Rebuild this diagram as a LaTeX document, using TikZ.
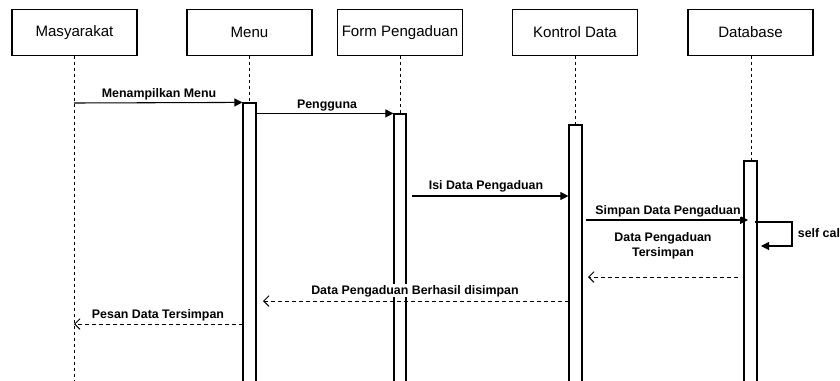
\documentclass[tikz,border=0pt]{standalone}
\usepackage{fontspec}
\setmainfont{Liberation Sans}
\usetikzlibrary{arrows.meta,fit}
\begin{document}
\begin{tikzpicture}[x=0.75pt,y=-0.75pt,
 head/.style={draw, line width=0.9pt, minimum width=93.75pt, minimum height=34.5pt, font=\fontsize{11.3}{13}\selectfont, inner sep=0},
 life/.style={dash pattern=on 2.5pt off 2pt, line width=0.7pt},
 act/.style={draw, fill=white, line width=0.9pt, inner sep=0},
 msg/.style={-{Triangle[length=6pt,width=6pt]}, line width=0.8pt},
 ret/.style={dash pattern=on 3pt off 2.25pt, -{Straight Barb[length=4pt,width=8pt]}, line width=0.7pt},
 lbl/.style={font=\bfseries\fontsize{9.3}{11}\selectfont, fill=white, inner sep=0.5pt, align=center, anchor=base}]

\useasboundingbox (0,0) rectangle (840,380);

% headers
\node[head] (mas) at (74.5,32.5) {Masyarakat};
\node[head] (menu) at (249.5,32.5) {Menu};
\node[head] (form) at (400,32.5) {Form Pengaduan};
\node[head] (kon) at (575,32.5) {Kontrol Data};
\node[head] (db) at (750.5,32.5) {Database};

% lifeline ends
\coordinate (masE) at (74,390);
\coordinate (menuE) at (249,390);
\coordinate (formE) at (400,390);
\coordinate (konE) at (575,390);
\coordinate (dbE) at (751,390);
\draw[life] (mas.south -| masE) -- (masE);
\draw[life] (menu.south -| menuE) -- (menuE);
\draw[life] (form.south -| formE) -- (formE);
\draw[life] (kon.south -| konE) -- (konE);
\draw[life] (db.south -| dbE) -- (dbE);

% activations
\node[act, fit={(243,103)(256,392)}] (a1) {};
\node[act, fit={(394,114)(406,392)}] (a2) {};
\node[act, fit={(569,125)(582,392)}] (a3) {};
\node[act, fit={(744,161)(757,392)}] (a4) {};

% message end points
\coordinate (m1s) at (74,103);
\coordinate (m3s) at (412,196);
\coordinate (m4s) at (586,220);
\coordinate (m4e) at (748,220);
\coordinate (s1) at (755,222);
\coordinate (s2) at (792,222);
\coordinate (s3) at (792,246);
\coordinate (s4) at (761,246);
\coordinate (r1s) at (738,277);
\coordinate (r1e) at (588,277);
\coordinate (r2s) at (569,301);
\coordinate (r2e) at (263,301);
\coordinate (r3s) at (243,324);
\coordinate (r3e) at (74,324);

\draw[msg] (m1s) -- (a1.north west);
\node[lbl] (l1) at (159,97) {Menampilkan Menu};

\draw[msg] (a1.east |- a2.north) -- (a2.north west);
\node[lbl] (l2) at (327,108) {Pengguna};

\draw[msg] (m3s) -- (a3.west |- m3s);
\node[lbl] (l3) at (486,189) {Isi Data Pengaduan};

\draw[msg] (m4s) -- (m4e);
\node[lbl] (l4) at (668,214) {Simpan Data Pengaduan};

\draw[msg] (s1) -- (s2) -- (s3) -- (s4);
\node[lbl, anchor=base west] (l5) at (797,237) {self call};

\draw[ret] (r1s) -- (r1e);
\node[lbl] (l6) at (663,256) {Data Pengaduan\\Tersimpan};

\draw[ret] (r2s) -- (r2e);
\node[lbl] (l7) at (415,294) {Data Pengaduan Berhasil disimpan};

\draw[ret] (r3s) -- (r3e);
\node[lbl] (l8) at (158,318) {Pesan Data Tersimpan};
\end{tikzpicture}
\end{document}
